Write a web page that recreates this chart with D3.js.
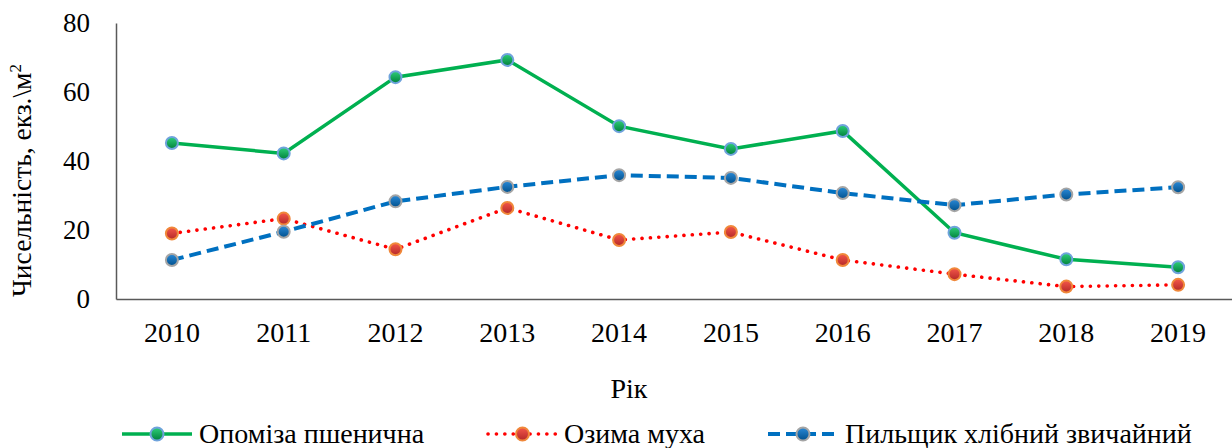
<!DOCTYPE html>
<html>
<head>
<meta charset="utf-8">
<script src="https://cdn.jsdelivr.net/npm/d3@7"></script>
</head>
<body style="margin:0">
<script>
// data
var years = ['2010', '2011', '2012', '2013', '2014', '2015', '2016', '2017', '2018', '2019'];
var opomiza = [45.2, 42.2, 64.3, 69.3, 50.1, 43.5, 48.7, 19.2, 11.5, 9.2];
var ozymaMukha = [19.0, 23.3, 14.4, 26.4, 17.1, 19.4, 11.3, 7.2, 3.6, 4.1];
var pylshchyk = [11.3, 19.5, 28.3, 32.5, 35.9, 35.1, 30.7, 27.2, 30.3, 32.4];
var yTicks = [0, 20, 40, 60, 80];

var width = 1232, height = 448;

var series = [
  { name: 'Опоміза пшенична', values: opomiza, color: '#00b050', dash: null, cap: 'butt', w: 3.5,
    fillTop: '#2fd07a', fillBot: '#00803a', stroke: '#6fa3dc' },
  { name: 'Озима муха', values: ozymaMukha, color: '#ff0000', dash: '0.1 8.3', cap: 'round', w: 3.6,
    fillTop: '#f4574a', fillBot: '#b42828', stroke: '#f0883a' },
  { name: 'Пильщик хлібний звичайний', values: pylshchyk, color: '#0070c0', dash: '12 6', cap: 'butt', w: 4,
    fillTop: '#2a8ad8', fillBot: '#00508c', stroke: '#a5a5a5' }
];

var svg = d3.select('body').append('svg')
  .attr('width', width)
  .attr('height', height)
  .attr('font-family', 'Liberation Serif');

var x = d3.scaleBand().domain(years).range([116, 1234]);
var y = d3.scaleLinear().domain([0, 80]).range([299, 23]);

var defs = svg.append('defs');
series.forEach(function (s, i) {
  var g = defs.append('linearGradient')
    .attr('id', 'mk' + i)
    .attr('x1', 0).attr('y1', 0).attr('x2', 0).attr('y2', 1);
  g.append('stop').attr('offset', '0%').attr('stop-color', s.fillTop);
  g.append('stop').attr('offset', '100%').attr('stop-color', s.fillBot);
});

// axes
var yAxis = svg.append('g')
  .attr('transform', 'translate(116,0)')
  .call(d3.axisLeft(y).tickValues(yTicks).tickSize(0).tickPadding(26))
  .attr('font-family', null)
  .attr('font-size', 27);
yAxis.select('.domain').attr('stroke', '#595959').attr('stroke-width', 1.5);
yAxis.selectAll('text').attr('fill', '#000');

var xAxis = svg.append('g')
  .attr('transform', 'translate(0,299)')
  .call(d3.axisBottom(x).tickSize(0).tickPadding(23))
  .attr('font-family', null)
  .attr('font-size', 28);
xAxis.select('.domain').attr('stroke', '#595959').attr('stroke-width', 1.5);
xAxis.selectAll('text').attr('fill', '#000');

// axis titles
var yTitle = svg.append('text')
  .attr('transform', 'translate(31,297) rotate(-90)')
  .attr('text-anchor', 'start')
  .attr('font-size', 27.5);
yTitle.append('tspan').text('Чисельність, екз.\\м');
yTitle.append('tspan').attr('dy', -10).attr('font-size', 17).text('2');

svg.append('text')
  .attr('x', 629)
  .attr('y', 398)
  .attr('text-anchor', 'middle')
  .attr('font-size', 28)
  .text('Рік');

// lines
var line = d3.line()
  .x(function (d, i) { return x(years[i]) + x.bandwidth() / 2; })
  .y(function (d) { return y(d); });

series.forEach(function (s, i) {
  svg.append('path')
    .datum(s.values)
    .attr('fill', 'none')
    .attr('stroke', s.color)
    .attr('stroke-width', s.w)
    .attr('stroke-linecap', s.cap)
    .attr('stroke-dasharray', s.dash)
    .attr('d', line);
});

series.forEach(function (s, i) {
  svg.append('g').selectAll('circle')
    .data(s.values)
    .enter()
    .append('circle')
    .attr('cx', function (d, j) { return x(years[j]) + x.bandwidth() / 2; })
    .attr('cy', function (d) { return y(d); })
    .attr('r', 6)
    .attr('fill', 'url(#mk' + i + ')')
    .attr('stroke', s.stroke)
    .attr('stroke-width', 2);
});

// legend
var legendX = [122, 488, 768];
var legendW = [70, 69, 70];
var legend = svg.append('g');
series.forEach(function (s, i) {
  var g = legend.append('g').attr('transform', 'translate(' + legendX[i] + ',434)');
  g.append('line')
    .attr('x1', 0).attr('x2', legendW[i])
    .attr('stroke', s.color)
    .attr('stroke-width', s.w)
    .attr('stroke-linecap', s.cap)
    .attr('stroke-dasharray', s.dash);
  g.append('circle')
    .attr('cx', legendW[i] / 2)
    .attr('r', 6.5)
    .attr('fill', 'url(#mk' + i + ')')
    .attr('stroke', s.stroke)
    .attr('stroke-width', 2);
  g.append('text')
    .attr('x', legendW[i] + 7)
    .attr('y', 9)
    .attr('font-size', 28)
    .text(s.name);
});
</script>
</body>
</html>
